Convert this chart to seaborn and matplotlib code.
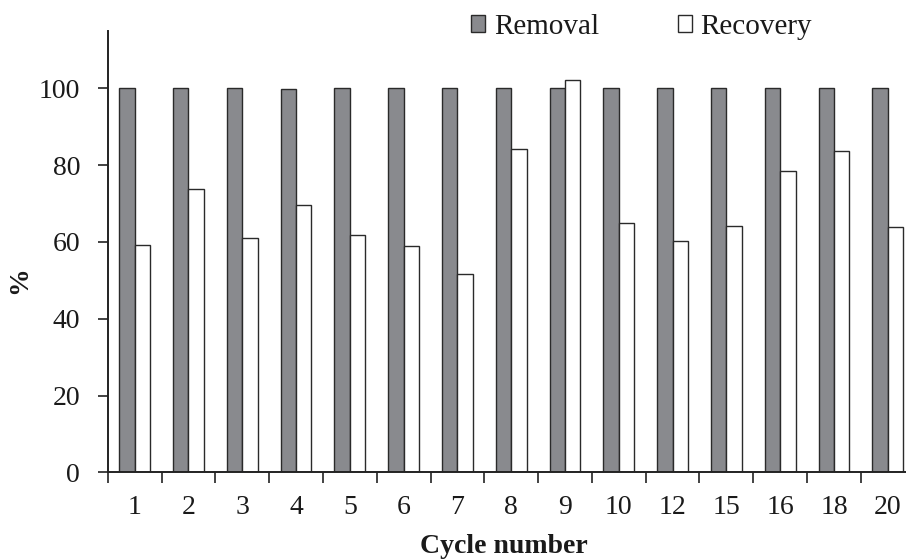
import pandas as pd
import matplotlib
matplotlib.use('Agg')
import matplotlib.pyplot as plt
import seaborn as sns
from matplotlib.ticker import FixedLocator

cycles = ['1', '2', '3', '4', '5', '6', '7', '8', '9', '10', '12', '15', '16', '18', '20']
removal = [100, 100, 100, 99.7, 100, 100, 100, 100, 100, 100, 100, 100, 100, 100, 100]
recovery = [59.1, 73.7, 61.0, 69.6, 61.8, 58.9, 51.7, 84.2, 102.1, 65.0, 60.3, 64.1, 78.4, 83.7, 64.0]

df = pd.DataFrame({
    'Cycle': cycles * 2,
    'Value': removal + recovery,
    'Series': ['Removal'] * len(cycles) + ['Recovery'] * len(cycles),
})

sns.set_style('ticks')
plt.rcParams['font.family'] = ['Liberation Serif', 'DejaVu Serif']

fig = plt.figure(figsize=(9.06, 5.59), dpi=100)
ax = fig.add_axes([0.119, 0.155, 0.881, 0.790])

sns.barplot(data=df, x='Cycle', y='Value', hue='Series', order=cycles,
            palette={'Removal': '#898a8e', 'Recovery': '#ffffff'},
            width=0.572, edgecolor='#2a2a2a', linewidth=1.0,
            saturation=1, legend=True, ax=ax)

ax.set_ylim(0, 115)
ax.set_xlim(-0.5, 14.34)
ax.set_yticks([0, 20, 40, 60, 80, 100])
ax.tick_params(axis='y', labelsize=20, length=7, width=1.2, pad=13,
               direction='out', color='#222222', labelcolor='#1a1a1a')
ax.tick_params(axis='x', which='major', labelsize=20, length=0, pad=16, labelcolor='#1a1a1a')
ax.xaxis.set_minor_locator(FixedLocator([i - 0.5 for i in range(len(cycles))]))
ax.tick_params(axis='x', which='minor', length=8, width=1.2, direction='out', color='#222222')

for side in ['top', 'right']:
    ax.spines[side].set_visible(False)
for side in ['left', 'bottom']:
    ax.spines[side].set_linewidth(1.4)
    ax.spines[side].set_color('#222222')

ax.set_xlabel('Cycle number', fontsize=20, fontweight='bold', color='#1a1a1a')
ax.set_ylabel('%', fontsize=20, fontweight='bold', color='#1a1a1a')
ax.xaxis.set_label_coords(0.4965, -0.139)
ax.yaxis.set_label_coords(-0.095, 0.4355)

handles, labels = ax.get_legend_handles_labels()
ax.get_legend().remove()
fig.legend(handles, labels, loc='center', bbox_to_anchor=(0.7082, 0.952), ncol=2,
           frameon=False, fontsize=21, handlelength=0.48, handleheight=0.48,
           handletextpad=0.3, columnspacing=2.7, labelcolor='#1a1a1a')

plt.savefig('out.png', dpi=100)
